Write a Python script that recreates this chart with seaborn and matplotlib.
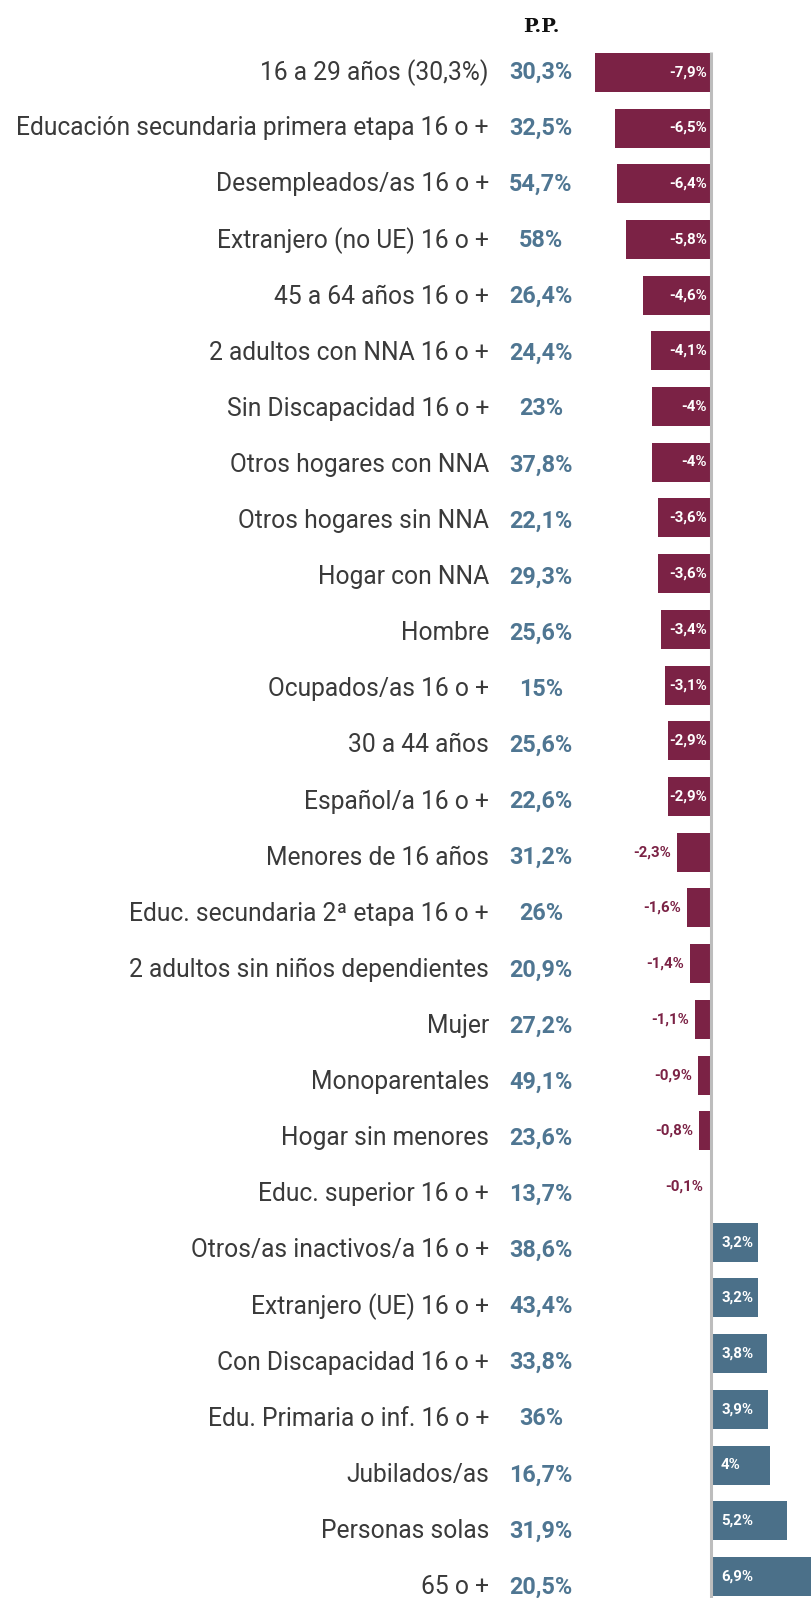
import matplotlib
matplotlib.use("Agg")
import matplotlib.pyplot as plt
import seaborn as sns
import pandas as pd
from matplotlib.transforms import blended_transform_factory

categories = [
    "16 a 29 años (30,3%)",
    "Educación secundaria primera etapa 16 o +",
    "Desempleados/as 16 o +",
    "Extranjero (no UE) 16 o +",
    "45 a 64 años 16 o +",
    "2 adultos con NNA 16 o +",
    "Sin Discapacidad 16 o +",
    "Otros hogares con NNA",
    "Otros hogares sin NNA",
    "Hogar con NNA",
    "Hombre",
    "Ocupados/as 16 o +",
    "30 a 44 años",
    "Español/a 16 o +",
    "Menores de 16 años",
    "Educ. secundaria 2ª etapa 16 o +",
    "2 adultos sin niños dependientes",
    "Mujer",
    "Monoparentales",
    "Hogar sin menores",
    "Educ. superior 16 o +",
    "Otros/as inactivos/a 16 o +",
    "Extranjero (UE) 16 o +",
    "Con Discapacidad 16 o +",
    "Edu. Primaria o inf. 16 o +",
    "Jubilados/as",
    "Personas solas",
    "65 o +",
]
change_pp = [-7.9, -6.5, -6.4, -5.8, -4.6, -4.1, -4.0, -4.0, -3.6, -3.6, -3.4, -3.1,
             -2.9, -2.9, -2.3, -1.6, -1.4, -1.1, -0.9, -0.8, -0.1,
             3.2, 3.2, 3.8, 3.9, 4.0, 5.2, 6.9]
rate_pct = [30.3, 32.5, 54.7, 58, 26.4, 24.4, 23, 37.8, 22.1, 29.3, 25.6, 15,
            25.6, 22.6, 31.2, 26, 20.9, 27.2, 49.1, 23.6, 13.7,
            38.6, 43.4, 33.8, 36, 16.7, 31.9, 20.5]
header = "P.P."


def fmt(v):
    s = ("%.1f" % v).replace(".", ",")
    if s.endswith(",0"):
        s = s[:-2]
    return s + "%"


MAROON = "#7b2245"
BLUE = "#4b7089"
RATE_C = "#4f7692"
TXT_C = "#3a3a3a"

df = pd.DataFrame({"cat": categories, "val": change_pp,
                   "sign": ["neg" if v < 0 else "pos" for v in change_pp]})

W, H = 811, 1598
fig = plt.figure(figsize=(W / 100, H / 100), dpi=100)
ax = fig.add_axes([0, 0, 1, 1])

sns.barplot(data=df, x="val", y="cat", hue="sign", order=categories,
            palette={"neg": MAROON, "pos": BLUE}, dodge=False, width=0.70,
            legend=False, ax=ax, orient="h", saturation=1)

px_per_unit = 14.7
zero_px = 711
ax.set_xlim(-zero_px / px_per_unit, (W - zero_px) / px_per_unit)
first_c, spacing = 72.3, 55.71
ax.set_ylim((H - first_c) / spacing, -first_c / spacing)
ax.axis("off")

# zero line
ax.vlines(0, -0.36, len(categories) + 0.5, color="#bdbdbd", lw=2.2, zorder=3)

trans = blended_transform_factory(fig.transFigure, ax.transData)
label_shift = 0.007
for i, (c, v, r) in enumerate(zip(categories, change_pp, rate_pct)):
    yl = i * (1 + label_shift)
    ax.text(489 / W, yl, c, transform=trans, ha="right", va="center",
            fontsize=17.7, family="Roboto", fontweight="normal", color=TXT_C)
    ax.text(541 / W, yl, fmt(r), transform=trans, ha="center", va="center",
            fontsize=16.8, family="Roboto", fontweight="bold", color=RATE_C)
    lab = fmt(v)
    if v < 0:
        if v <= -2.8:
            ax.text(-4 / px_per_unit, i, lab, ha="right", va="center",
                    fontsize=10.8, family="Roboto", fontweight="bold",
                    color="white", zorder=4)
        else:
            ax.text(v - 6 / px_per_unit, i, lab, ha="right", va="center",
                    fontsize=10.8, family="Roboto", fontweight="bold",
                    color=MAROON, zorder=4)
    else:
        ax.text(10 / px_per_unit, i, lab, ha="left", va="center",
                fontsize=10.8, family="Roboto", fontweight="bold",
                color="white", zorder=4)

fig.text(541 / W, 1 - 27 / H, header, ha="center", va="center",
         fontsize=14, family="DejaVu Serif", fontweight="bold", color="#111111")

fig.savefig("out.png", dpi=100, facecolor="white")
